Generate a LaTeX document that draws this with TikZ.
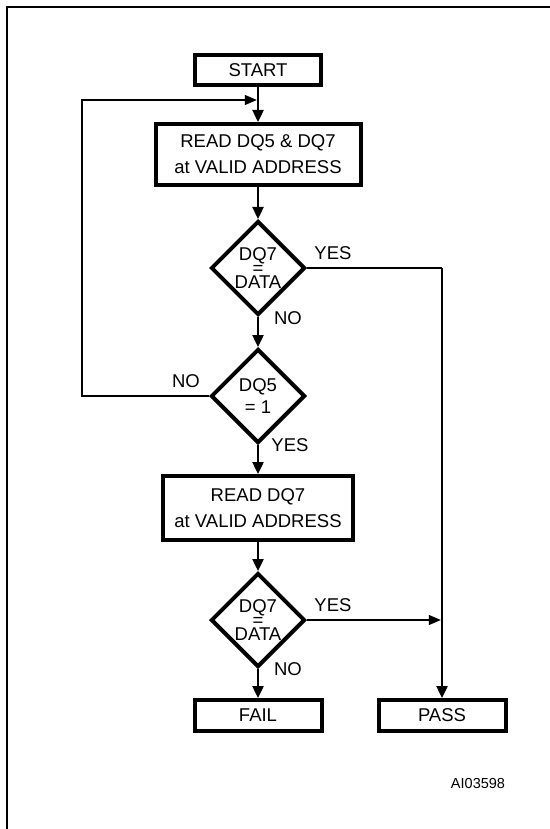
\documentclass[tikz,border=0pt]{standalone}
\usepackage{fontspec}
\setmainfont{Liberation Sans}
\usetikzlibrary{shapes.geometric,arrows.meta}
\begin{document}
\begin{tikzpicture}[x=1pt,y=-1pt,
		box/.style={draw,line width=4pt,rectangle,inner sep=0pt,align=center,font=\fontsize{18.5}{26}\selectfont},
		test/.style={draw,line width=4pt,diamond,inner sep=0pt,minimum width=94pt,minimum height=94pt,align=center,font=\fontsize{18.5}{14}\selectfont},
		flow/.style={line width=2.4pt,-{Triangle[length=12pt,width=11pt]}},
		side/.style={line width=1.3pt},
		lbl/.style={inner sep=0pt,font=\fontsize{18.5}{20}\selectfont}]
			\useasboundingbox (0,0) rectangle (549,829);
			\coordinate (F1) at (7,840);
			\coordinate (F2) at (7,7);
			\coordinate (F3) at (560,7);
			\coordinate (J) at (256.8,100);
			\coordinate (L1) at (82,396);
			\coordinate (L2) at (82,100);
			\coordinate (R1) at (442,268);
			\coordinate (R2) at (440.8,620);
			\draw[line width=2.5pt] (F1) -- (F2) -- (F3);
			\node[box,minimum width=126pt,minimum height=30pt] (start) at (258,70) {START};
			\node[box,minimum width=205pt,minimum height=61pt] (read1) at (258,154.5) {READ DQ5 \& DQ7\\at VALID ADDRESS};
			\node[test] (dq7a) at (258,268) {DQ7\\=\\DATA};
			\node[test,font=\fontsize{18.5}{22}\selectfont] (dq5) at (258,396) {DQ5\\= 1};
			\node[box,minimum width=190pt,minimum height=64pt] (read2) at (258,508) {READ DQ7\\at VALID ADDRESS};
			\node[test] (dq7b) at (258,620) {DQ7\\=\\DATA};
			\node[box,minimum width=127pt,minimum height=31pt] (fail) at (258,715.5) {FAIL};
			\node[box,minimum width=127pt,minimum height=31pt] (pass) at (442,715.5) {PASS};
			\node[lbl] (yes1) at (333,253) {YES};
			\node[lbl] (no1) at (288,318) {NO};
			\node[lbl] (no2) at (186,381) {NO};
			\node[lbl] (yes2) at (290,445) {YES};
			\node[lbl] (yes3) at (333,605) {YES};
			\node[lbl] (no3) at (288,669) {NO};
			\node[lbl,font=\fontsize{14.5}{16}\selectfont] (code) at (478,783) {AI03598};
			\draw[flow] (start) -- (read1);
			\draw[side,-{Triangle[length=12pt,width=10pt]}] (dq5.west) -- (L1) -- (L2) -- (J);
			\draw[flow] (read1) -- (dq7a);
			\draw[flow] (dq7a) -- (dq5);
			\draw[flow] (dq5) -- (read2);
			\draw[flow] (read2) -- (dq7b);
			\draw[flow] (dq7b) -- (fail);
			\draw[side] (dq7a.east) -- (R1);
			\draw[flow] (R1) -- (pass);
			\draw[side,-{Triangle[length=12pt,width=10pt]}] (dq7b.east) -- (R2);
		\end{tikzpicture}
\end{document}
